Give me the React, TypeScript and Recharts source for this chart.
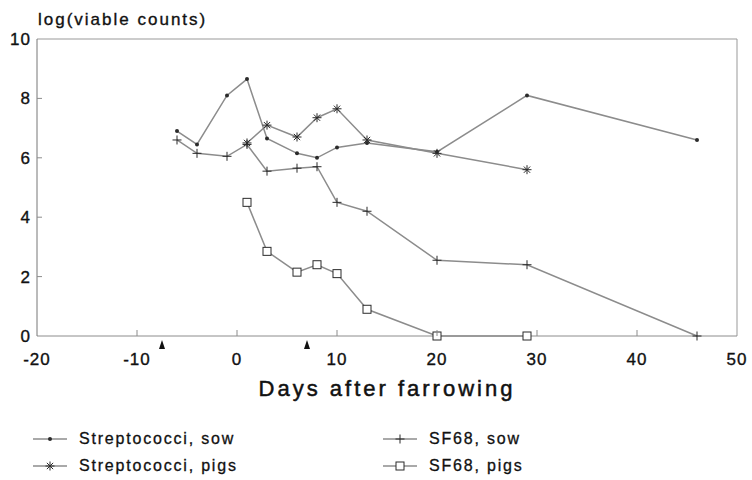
import { LineChart, Line, XAxis, YAxis, ReferenceLine, ReferenceDot } from "recharts"

const FONT = "'Liberation Sans', Arial, sans-serif"
const LINE = "#8c8c8c"
const INK = "#2b2b2b"

const xTicks = [-20, -10, 0, 10, 20, 30, 40, 50]
const yTicks = [0, 2, 4, 6, 8, 10]
const arrowDays = [-7.5, 7]

const strepSowDays = [-6, -4, -1, 1, 3, 6, 8, 10, 13, 20, 29, 46]
const strepSowLog = [6.9, 6.45, 8.1, 8.65, 6.65, 6.15, 6.0, 6.35, 6.5, 6.2, 8.1, 6.6]

const strepPigsDays = [1, 3, 6, 8, 10, 13, 20, 29]
const strepPigsLog = [6.5, 7.1, 6.7, 7.35, 7.65, 6.6, 6.15, 5.6]

const sfSowDays = [-6, -4, -1, 1, 3, 6, 8, 10, 13, 20, 29, 46]
const sfSowLog = [6.6, 6.15, 6.05, 6.45, 5.55, 5.65, 5.7, 4.5, 4.2, 2.55, 2.4, 0]

const sfPigsDays = [1, 3, 6, 8, 10, 13, 20, 29]
const sfPigsLog = [4.5, 2.85, 2.15, 2.4, 2.1, 0.9, 0, 0]

const toPoints = (days: number[], vals: number[]) => days.map((x, i) => ({ x, y: vals[i] }))

// markers
const Dot = ({ cx, cy }: any) => <circle cx={cx} cy={cy} r={2} fill={INK} />

const Star = ({ cx, cy }: any) => {
    const r = 4.5
    const d = r * 0.7
    return (
        <g stroke={INK} strokeWidth={1}>
            <line x1={cx - r} y1={cy} x2={cx + r} y2={cy} />
            <line x1={cx} y1={cy - r} x2={cx} y2={cy + r} />
            <line x1={cx - d} y1={cy - d} x2={cx + d} y2={cy + d} />
            <line x1={cx - d} y1={cy + d} x2={cx + d} y2={cy - d} />
        </g>
    )
}

const Plus = ({ cx, cy }: any) => (
    <g stroke={INK} strokeWidth={1}>
        <line x1={cx - 4.5} y1={cy} x2={cx + 4.5} y2={cy} />
        <line x1={cx} y1={cy - 4.5} x2={cx} y2={cy + 4.5} />
    </g>
)

const Square = ({ cx, cy }: any) => (
    <rect x={cx - 4} y={cy - 4} width={8} height={8} fill="#fff" stroke={INK} strokeWidth={1} />
)

const series = [
    { name: "Streptococci, sow", data: toPoints(strepSowDays, strepSowLog), Mark: Dot },
    { name: "Streptococci, pigs", data: toPoints(strepPigsDays, strepPigsLog), Mark: Star },
    { name: "SF68, sow", data: toPoints(sfSowDays, sfSowLog), Mark: Plus },
    { name: "SF68, pigs", data: toPoints(sfPigsDays, sfPigsLog), Mark: Square },
]

const textProps = { fill: "#111", stroke: "#111", strokeWidth: 0.35, fontFamily: FONT }

const XTick = ({ x, y, payload }: any) => {
    const v = payload.value
    const inner = v !== -20 && v !== 50
    return (
        <g>
            {inner && <line x1={x} y1={y} x2={x} y2={y - 6} stroke={LINE} />}
            <text x={x} y={y + 29} textAnchor="middle" fontSize={17} letterSpacing={1} {...textProps}>
                {v}
            </text>
        </g>
    )
}

const YTick = ({ x, y, payload }: any) => {
    const v = payload.value
    const inner = v !== 0 && v !== 10
    return (
        <g>
            {inner && <line x1={x} y1={y} x2={x + 5} y2={y} stroke={LINE} />}
            <text x={x - 6} y={y + 6} textAnchor="end" fontSize={17} letterSpacing={1} {...textProps}>
                {v}
            </text>
        </g>
    )
}

const Arrow = ({ cx, cy }: any) => (
    <path d={`M${cx},${cy + 4} l-3,9 h6 z`} fill="#111" />
)

function LegendItem({ left, top, name, Mark }: any) {
    return (
        <div style={{ position: "absolute", left, top: top - 10, height: 20, display: "flex", alignItems: "center" }}>
            <svg width={34} height={20}>
                <line x1={0} y1={10} x2={34} y2={10} stroke={LINE} strokeWidth={1.5} />
                <Mark cx={17} cy={10} />
            </svg>
            <span
                style={{
                    marginLeft: 12,
                    fontSize: 16,
                    letterSpacing: 1.8,
                    color: "#111",
                    fontFamily: FONT,
                    WebkitTextStroke: "0.3px #111",
                }}
            >
                {name}
            </span>
        </div>
    )
}

export default function App() {
    return (
        <div style={{ position: "absolute", left: 0, top: 0, width: 752, height: 480, background: "#fff" }}>
            <LineChart width={752} height={480} margin={{ top: 39, right: 15, bottom: 104, left: 0 }}>
                <XAxis
                    dataKey="x"
                    type="number"
                    domain={[-20, 50]}
                    ticks={xTicks}
                    tickSize={0}
                    tickMargin={0}
                    tickLine={false}
                    height={40}
                    stroke={LINE}
                    tick={<XTick />}
                    label={(props: any) => {
                        const vb = props.viewBox
                        return (
                            <text
                                x={vb.x + vb.width / 2}
                                y={vb.y + 60}
                                textAnchor="middle"
                                fontSize={22}
                                letterSpacing={3}
                                {...textProps}
                                strokeWidth={0.5}
                            >
                                Days after farrowing
                            </text>
                        )
                    }}
                />
                <YAxis
                    dataKey="y"
                    type="number"
                    domain={[0, 10]}
                    ticks={yTicks}
                    width={37}
                    tickSize={0}
                    tickMargin={0}
                    tickLine={false}
                    stroke="#777"
                    tick={<YTick />}
                    label={(props: any) => {
                        const vb = props.viewBox
                        return (
                            <text x={vb.x + 38} y={vb.y - 14} fontSize={17} letterSpacing={2} {...textProps}>
                                log(viable counts)
                            </text>
                        )
                    }}
                />
                <ReferenceLine y={10} stroke="#999" />
                <ReferenceLine x={50} stroke="#999" />
                {arrowDays.map((d) => (
                    <ReferenceDot key={d} x={d} y={0} r={0} shape={<Arrow />} />
                ))}
                {series.map((s) => (
                    <Line
                        key={s.name}
                        data={s.data}
                        dataKey="y"
                        name={s.name}
                        type="linear"
                        stroke={LINE}
                        strokeWidth={1.5}
                        isAnimationActive={false}
                        dot={(p: any) => <s.Mark key={`${s.name}-${p.index}`} cx={p.cx} cy={p.cy} />}
                        activeDot={false}
                    />
                ))}
            </LineChart>
            <LegendItem left={33} top={439} name={series[0].name} Mark={Dot} />
            <LegendItem left={33} top={466} name={series[1].name} Mark={Star} />
            <LegendItem left={383} top={439} name={series[2].name} Mark={Plus} />
            <LegendItem left={383} top={466} name={series[3].name} Mark={Square} />
        </div>
    )
}
